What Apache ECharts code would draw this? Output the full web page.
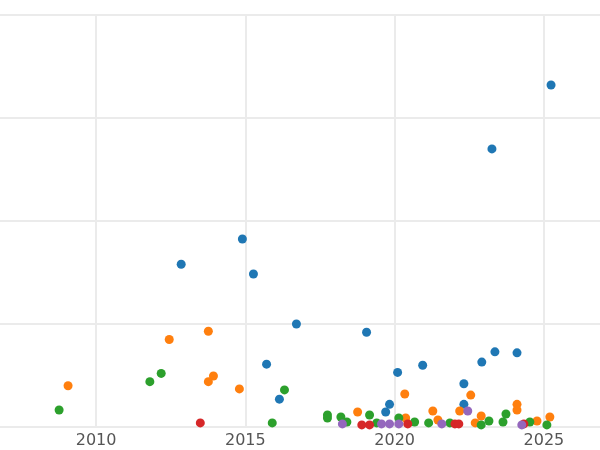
<!DOCTYPE html><html><head><meta charset="utf-8">
<script src="https://cdn.jsdelivr.net/npm/echarts@6/dist/echarts.min.js"></script>
<style>html,body{margin:0;padding:0;background:#fff}#c{width:600px;height:450px}</style></head><body><div id="c"></div>
<script>
const xTicks=[2010,2015,2020,2025];
const blue=[[2025.24,332],[2023.26,270],[2014.9,182.5],[2012.85,158],[2015.27,148.5],[2016.71,100],[2019.06,92],[2015.71,61],[2020.94,60],[2020.1,53],[2022.92,63],[2023.36,73],[2024.1,72],[2022.32,42],[2016.14,27],[2019.83,22],[2019.7,14.6],[2022.32,22]];
const orange=[[2009.06,40],[2012.45,85],[2013.76,93],[2013.93,49.5],[2013.76,44],[2014.8,37],[2018.76,14.6],[2020.34,32],[2021.28,15.5],[2022.55,31],[2022.18,15.5],[2024.1,22],[2024.1,16.5],[2022.9,10.7],[2025.2,9.7],[2024.77,5.8],[2022.7,4],[2020.37,8.7],[2021.45,6.8]];
const green=[[2008.76,16.5],[2011.8,44],[2012.18,52],[2016.31,36],[2015.9,4],[2017.75,11.7],[2017.75,8.7],[2018.2,9.7],[2019.16,11.7],[2018.4,4.9],[2020.14,8.7],[2020.67,4.9],[2021.14,4],[2021.85,4],[2022.9,2],[2023.16,5.8],[2023.63,4.9],[2023.73,12.6],[2024.53,4.9],[2025.1,2],[2019.4,4]];
const red=[[2013.49,4],[2018.9,2],[2019.16,2],[2020.44,3],[2022.02,3],[2022.15,3],[2024.33,3]];
const purple=[[2018.25,3],[2019.56,3],[2019.83,3],[2020.14,3],[2021.58,3],[2022.45,15.5],[2024.26,2]];
const colors=['#1f77b4','#ff7f0e','#2ca02c','#d62728','#9467bd'];
const all=[blue,orange,green,red,purple];
const ch=echarts.init(document.getElementById('c'));
ch.setOption({
 animation:false,
 grid:{left:0,right:0,top:15,bottom:23},
 xAxis:{type:'value',min:2006.78,max:2026.88,
  axisLine:{show:false},axisTick:{show:false,customValues:xTicks},
  axisLabel:{customValues:xTicks,formatter:v=>String(Math.round(v)),color:'#555',fontSize:16,fontFamily:'DejaVu Sans',margin:6},
  splitLine:{show:true,lineStyle:{color:'#ebebeb',width:2}}},
 yAxis:{type:'value',min:0,max:400,interval:100,axisLabel:{show:false},axisLine:{show:false},axisTick:{show:false},
  splitLine:{lineStyle:{color:'#ebebeb',width:2}}},
 series:all.map((d,i)=>({type:'scatter',data:d,symbolSize:9,itemStyle:{color:colors[i],opacity:1}}))
});
</script></body></html>
